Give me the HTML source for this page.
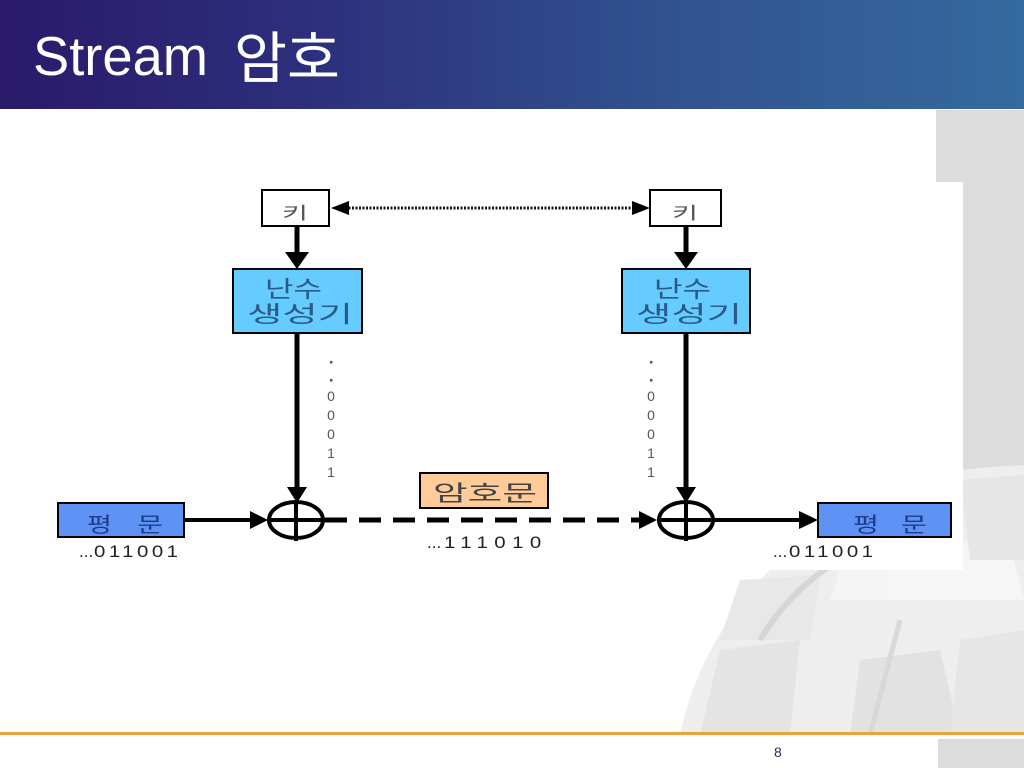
<!DOCTYPE html>
<html><head><meta charset="utf-8">
<style>
html,body{margin:0;padding:0;}
body{width:1024px;height:768px;position:relative;overflow:hidden;background:#fff;font-family:"Liberation Sans","Noto Sans CJK KR",sans-serif;}
.hdr{position:absolute;left:0;top:0;width:1024px;height:109px;background:linear-gradient(to right,#2a1a6a 0%,#2d2f7c 30%,#31528f 65%,#346a9d 100%);}
svg{position:absolute;left:0;top:0;}
.num{position:absolute;left:774px;top:744px;font-size:14px;color:#2a2a6a;font-family:"Liberation Sans",sans-serif;}
</style></head>
<body>
<div class="hdr"></div>

<svg width="1024" height="768" viewBox="0 0 1024 768" xmlns="http://www.w3.org/2000/svg">
  <!-- title -->
  <text x="33" y="75" font-size="55" fill="#fff" font-family="Liberation Sans, sans-serif" textLength="175" lengthAdjust="spacingAndGlyphs">Stream</text>
  <text x="234" y="78" font-size="56" fill="#fff" font-family="Noto Sans CJK KR, sans-serif" textLength="106" lengthAdjust="spacingAndGlyphs">암호</text>

  <!-- right gray panel -->
  <rect x="936" y="110" width="88" height="360" fill="#dcdcdc"/>
  <!-- keyboard background -->
  <g>
    <path d="M680,735 C700,640 760,560 860,500 C910,475 960,468 1024,465 L1024,735 Z" fill="#eeeeee"/>
    <path d="M700,735 L720,650 L800,640 L790,735 Z" fill="#e4e4e4"/>
    <path d="M720,640 L740,580 L820,575 L810,640 Z" fill="#e8e8e8"/>
    <path d="M830,600 L850,540 L960,535 L950,600 Z" fill="#f5f5f5"/>
    <path d="M850,735 L860,660 L940,650 L960,735 Z" fill="#e2e2e2"/>
    <path d="M950,735 L960,640 L1024,630 L1024,735 Z" fill="#e6e6e6"/>
    <path d="M880,600 L900,540 L1010,545 L1024,600 Z" fill="#f6f6f6"/>
    <path d="M960,480 L1024,475 L1024,560 L970,560 Z" fill="#e6e6e6"/>
    <path d="M760,640 C790,590 830,560 880,540" stroke="#d6d6d6" stroke-width="6" fill="none"/>
    <path d="M870,735 L900,620" stroke="#d8d8d8" stroke-width="5" fill="none"/>
  </g>
  <!-- diagram white area -->
  <rect x="40" y="182" width="923" height="388" fill="#fff"/>

  <!-- key boxes -->
  <rect x="262" y="190" width="67" height="36" fill="#fff" stroke="#000" stroke-width="2"/>
  <rect x="650" y="190" width="71" height="36" fill="#fff" stroke="#000" stroke-width="2"/>
  <g font-family="Noto Sans CJK KR, sans-serif" font-size="17" fill="#555">
    <text x="282" y="219" textLength="26" lengthAdjust="spacingAndGlyphs">키</text>
    <text x="672" y="219" textLength="26" lengthAdjust="spacingAndGlyphs">키</text>
  </g>

  <!-- dotted double arrow -->
  <line x1="345" y1="208" x2="636" y2="208" stroke="#111" stroke-width="3" stroke-dasharray="2,1.5"/>
  <polygon points="331,208 349,201 349,215" fill="#000"/>
  <polygon points="650,208 632,201 632,215" fill="#000"/>

  <!-- key -> generator arrows -->
  <line x1="297" y1="226" x2="297" y2="254" stroke="#000" stroke-width="5"/>
  <polygon points="285,252 309,252 297,269" fill="#000"/>
  <line x1="686" y1="226" x2="686" y2="254" stroke="#000" stroke-width="5"/>
  <polygon points="674,252 698,252 686,269" fill="#000"/>

  <!-- generators -->
  <rect x="233" y="269" width="129" height="64" fill="#66ccff" stroke="#000" stroke-width="2"/>
  <rect x="622" y="269" width="128" height="64" fill="#66ccff" stroke="#000" stroke-width="2"/>
  <g font-family="Noto Sans CJK KR, sans-serif" font-size="23" fill="#2a5a88">
    <text x="265" y="297" textLength="57" lengthAdjust="spacingAndGlyphs">난수</text>
    <text x="247" y="322" textLength="106" lengthAdjust="spacingAndGlyphs">생성기</text>
    <text x="654" y="297" textLength="57" lengthAdjust="spacingAndGlyphs">난수</text>
    <text x="636" y="322" textLength="106" lengthAdjust="spacingAndGlyphs">생성기</text>
  </g>

  <!-- vertical lines to XOR -->
  <line x1="297" y1="333" x2="297" y2="490" stroke="#000" stroke-width="5"/>
  <polygon points="287,487 307,487 297,503" fill="#000"/>
  <line x1="686" y1="333" x2="686" y2="490" stroke="#000" stroke-width="5"/>
  <polygon points="676,487 696,487 686,503" fill="#000"/>

  <!-- bit labels -->
  <g font-family="Liberation Sans, sans-serif" font-size="14" fill="#555" text-anchor="middle">
    <rect x="330" y="361" width="2.5" height="2.5" fill="#555"/>
    <rect x="330" y="379" width="2.5" height="2.5" fill="#555"/>
    <text x="331" y="401">0</text>
    <text x="331" y="420">0</text>
    <text x="331" y="439">0</text>
    <text x="331" y="458">1</text>
    <text x="331" y="477">1</text>
    <rect x="650" y="361" width="2.5" height="2.5" fill="#555"/>
    <rect x="650" y="379" width="2.5" height="2.5" fill="#555"/>
    <text x="651" y="401">0</text>
    <text x="651" y="420">0</text>
    <text x="651" y="439">0</text>
    <text x="651" y="458">1</text>
    <text x="651" y="477">1</text>
  </g>

  <!-- XOR circles -->
  <ellipse cx="296" cy="520" rx="27" ry="18" fill="none" stroke="#000" stroke-width="4"/>
  <line x1="296" y1="500" x2="296" y2="541" stroke="#000" stroke-width="4"/>
  <line x1="269" y1="520" x2="325" y2="520" stroke="#000" stroke-width="4"/>
  <ellipse cx="686" cy="520" rx="27" ry="18" fill="none" stroke="#000" stroke-width="4"/>
  <line x1="686" y1="500" x2="686" y2="541" stroke="#000" stroke-width="4"/>
  <line x1="659" y1="520" x2="715" y2="520" stroke="#000" stroke-width="4"/>

  <!-- plaintext boxes -->
  <rect x="58" y="503" width="126" height="34" fill="#5e93f5" stroke="#000" stroke-width="2"/>
  <rect x="818" y="503" width="133" height="34" fill="#5e93f5" stroke="#000" stroke-width="2"/>
  <g font-family="Noto Sans CJK KR, sans-serif" font-size="21" fill="#1c3d8a">
    <text x="87" y="532" textLength="25" lengthAdjust="spacingAndGlyphs">평</text>
    <text x="137" y="532" textLength="26" lengthAdjust="spacingAndGlyphs">문</text>
    <text x="853" y="532" textLength="26" lengthAdjust="spacingAndGlyphs">평</text>
    <text x="901" y="532" textLength="26" lengthAdjust="spacingAndGlyphs">문</text>
  </g>

  <!-- plaintext -> XOR arrow -->
  <line x1="184" y1="520" x2="254" y2="520" stroke="#000" stroke-width="4"/>
  <polygon points="250,511 268,520 250,529" fill="#000"/>

  <!-- dashed ciphertext arrow -->
  <line x1="325" y1="520" x2="642" y2="520" stroke="#000" stroke-width="5" stroke-dasharray="22,12"/>
  <polygon points="639,511 657,520 639,529" fill="#000"/>

  <!-- XOR -> plaintext arrow -->
  <line x1="715" y1="520" x2="802" y2="520" stroke="#000" stroke-width="4"/>
  <polygon points="799,511 818,520 799,529" fill="#000"/>

  <!-- ciphertext box -->
  <rect x="420" y="473" width="128" height="35" fill="#ffcc99" stroke="#000" stroke-width="2"/>
  <text x="433" y="501" font-family="Noto Sans CJK KR, sans-serif" font-size="22" fill="#444" textLength="104" lengthAdjust="spacingAndGlyphs">암호문</text>

  <!-- bit strings -->
  <g font-family="Liberation Sans, sans-serif" font-size="17" fill="#222">
    <text x="79" y="557">...</text>
    <g transform="translate(94,557) scale(1.2,1)"><text x="0" y="0" textLength="70" lengthAdjust="spacing">011001</text></g>
    <text x="427" y="548">...</text>
    <g transform="translate(444,548) scale(1.2,1)"><text x="0" y="0" textLength="81" lengthAdjust="spacing">111010</text></g>
    <text x="773" y="557">...</text>
    <g transform="translate(789,557) scale(1.2,1)"><text x="0" y="0" textLength="70" lengthAdjust="spacing">011001</text></g>
  </g>

  <!-- footer -->
  <rect x="0" y="732" width="1024" height="3" fill="#eaa23a"/>
  <rect x="938" y="739" width="86" height="29" fill="#dcdcdc"/>
</svg>
<div class="num">8</div>
</body></html>
